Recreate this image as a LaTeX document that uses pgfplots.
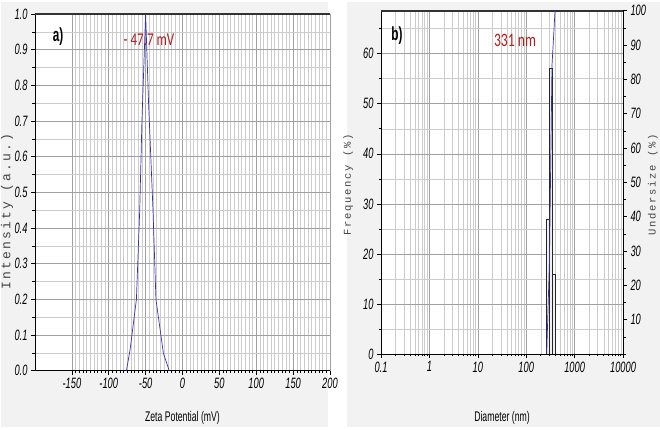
\documentclass[border=0pt]{standalone}
\usepackage{pgfplots}
\pgfplotsset{compat=1.18}
\usepackage{fontspec}
\setmainfont{Liberation Sans}
\newfontfamily\nsans[FakeStretch=0.62]{Liberation Sans}
\newfontfamily\calib[FakeStretch=0.72]{Carlito}
\newfontfamily\mono[LetterSpace=17]{Liberation Mono}
\definecolor{panelbg}{HTML}{F2F2F2}
\definecolor{gmaj}{HTML}{A0A0A0}
\definecolor{gmin}{HTML}{CCCCCC}
\definecolor{curve}{HTML}{3535A8}
\definecolor{lab}{HTML}{B01E1E}
\definecolor{monotxt}{HTML}{444444}
\pgfplotsset{
  common/.style={
    scale only axis, anchor=south west,
    tick align=outside,
    axis line style={-, black, line width=0.8pt},
    major tick length=4pt, minor tick length=2.5pt,
    tick style={black, line width=0.6pt},
    ticklabel style={font=\nsans\itshape\fontsize{15}{15}\selectfont},
    grid=both,
    major grid style={gmaj, line width=0.6pt},
    minor grid style={gmin, line width=0.5pt},
  }
}
\begin{document}
\begin{tikzpicture}
\useasboundingbox (0,0) rectangle (660pt,430pt);
\fill[panelbg] (1pt,3pt) rectangle (328pt,428pt);
\fill[panelbg] (347pt,3pt) rectangle (660pt,428pt);
% ---------------- panel a
\begin{axis}[common,
  at={(35pt,59.3pt)}, width=295pt, height=356.7pt,
  axis background/.style={fill=white},
  xmin=-200, xmax=200, ymin=0, ymax=1,
  axis x line*=bottom, axis y line*=left,
  xtick={-150,-100,-50,0,50,100,150,200},
  xticklabels={-150,-100,-50,0,50,100,150,200},
  minor x tick num=9,
  ytick={0,0.1,0.2,0.3,0.4,0.5,0.6,0.7,0.8,0.9,1.0},
  yticklabels={0.0,0.1,0.2,0.3,0.4,0.5,0.6,0.7,0.8,0.9,1.0},
  minor y tick num=1,
  xlabel={Zeta Potential (mV)},
  xlabel style={font=\nsans\fontsize{14}{14}\selectfont, at={(axis description cs:0.5,-0.132)}, anchor=center},
  ylabel={Intensity (a.u.)},
  ylabel style={font=\mono\fontsize{13}{13}\selectfont, text=monotxt, at={(axis description cs:-0.095,0.445)}, anchor=center},
]
\addplot[curve, line width=0.7pt] coordinates {
(-76,0) (-71,0.06) (-62.5,0.2) (-58,0.45) (-55,0.7) (-50,1.0) (-46,0.75) (-40,0.45) (-36,0.2) (-26,0.05) (-18,0)};
\draw[black!80, line width=2pt] (rel axis cs:0,1) -- (rel axis cs:1,1);
\end{axis}
% ---------------- panel b (left axis, frequency)
\begin{axis}[common,
  at={(381pt,76pt)}, width=242pt, height=343.3pt,
  axis background/.style={fill=white},
  xmode=log, xmin=0.1, xmax=10000, ymin=0, ymax=68.6,
  axis x line*=bottom, axis y line*=left,
  xtick={0.1,1,10,100,1000,10000},
  xticklabels={0.1,1,10,100,1000,10000},
  minor xtick={0.2,0.3,0.4,0.5,0.6,0.7,0.8,0.9,2,3,4,5,6,7,8,9,20,30,40,50,60,70,80,90,200,300,400,500,600,700,800,900,2000,3000,4000,5000,6000,7000,8000,9000},
  ytick={0,10,20,30,40,50,60}, yticklabels={0,10,20,30,40,50,60},
  minor ytick={5,15,25,35,45,55,65},
  xlabel={Diameter (nm)},
  xlabel style={font=\nsans\fontsize{14}{14}\selectfont, at={(axis description cs:0.5,-0.186)}, anchor=center},
  ylabel={Frequency (\%)},
  ylabel style={font=\mono\fontsize{10.5}{10.5}\selectfont, text=monotxt, at={(axis description cs:-0.136,0.492)}, anchor=center},
]
\addplot[draw=black!85, fill=gray!12, line width=0.7pt] coordinates {(265,27) (302,27)} \closedcycle;
\addplot[draw=black!85, fill=gray!12, line width=0.7pt] coordinates {(302,57) (341,57)} \closedcycle;
\addplot[draw=black!85, fill=gray!12, line width=0.7pt] coordinates {(341,16) (394,16)} \closedcycle;
\draw[black!80, line width=2pt] (rel axis cs:0,1) -- (rel axis cs:1,1);
\end{axis}
% ---------------- panel b (right axis, undersize)
\begin{axis}[common,
  at={(381pt,76pt)}, width=242pt, height=343.3pt,
  xmode=log, xmin=0.1, xmax=10000, ymin=0, ymax=100,
  axis y line*=right, axis x line=none, grid=none,
  ytick={10,20,30,40,50,60,70,80,90,100},
  yticklabels={10,20,30,40,50,60,70,80,90,100},
  minor ytick={0,5,15,25,35,45,55,65,75,85,95},
  ylabel={Undersize (\%)},
  ylabel style={font=\mono\fontsize{10.5}{10.5}\selectfont, text=monotxt, at={(axis description cs:1.124,0.492)}, anchor=center, rotate=0},
]
\addplot[curve, line width=0.7pt] coordinates {(265,0) (302,27) (341,84) (394,100)};
\end{axis}
% ---------------- annotations
\node[font=\nsans\bfseries\fontsize{19}{19}\selectfont, anchor=center] at (58pt,393pt) {a)};
\node[font=\calib\fontsize{18}{18}\selectfont, text=lab, anchor=center] at (149pt,390pt) {- 47.7 mV};
\node[font=\nsans\bfseries\fontsize{19}{19}\selectfont, anchor=center] at (397pt,394pt) {b)};
\node[font=\calib\fontsize{19}{19}\selectfont, text=lab, anchor=center] at (515pt,390pt) {331 nm};
\end{tikzpicture}
\end{document}
